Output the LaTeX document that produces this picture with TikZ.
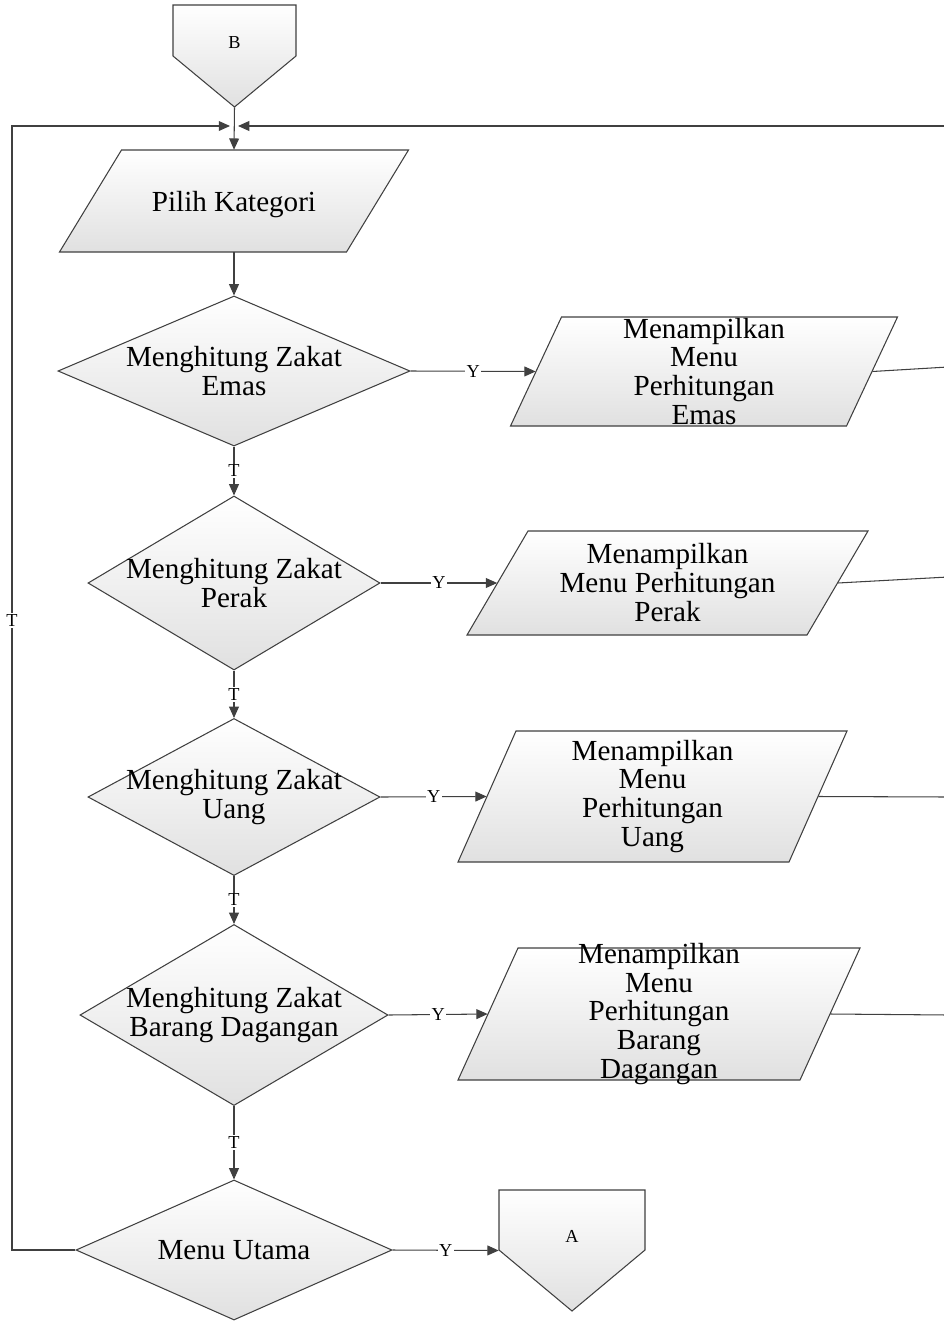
\documentclass[tikz,border=0pt]{standalone}
\usepackage{fontspec}
\setmainfont{Liberation Serif}
\usetikzlibrary{shapes.geometric,arrows.meta}
\definecolor{linegray}{RGB}{64,64,64}
% input/output outline: center, body width, height, slant
\newcommand{\ioshape}[4]{\path[box] (#1) ++({-(#2+#4)/2},{#3/2}) -- ++(#4,-#3) -- ++(#2,0) -- ++(-#4,#3) -- cycle;}
% off-page connector outline: center, width, height, side height
\newcommand{\offshape}[4]{\path[box] (#1) ++({-#2/2},{-#3/2}) -- ++(#2,0) -- ++(0,#4) -- ++({-#2/2},{#3-#4}) -- ++({-#2/2},{#4-#3}) -- cycle;}

\begin{document}
\begin{tikzpicture}[x=0.025cm, y=-0.025cm,
    box/.style ={draw=linegray, line width=0.75pt, top color=white, bottom color=black!12},
    decision/.style ={box, diamond, inner sep=0pt},
    txt/.style ={font=\fontsize{20.7}{20.6}\selectfont, align=center, inner sep=0pt},
    small/.style ={font=\fontsize{13}{13}\selectfont},
    lbl/.style ={small, fill=white, inner sep=1pt},
    flow/.style ={draw=linegray, line width=0.75pt, -{Triangle[length=8pt,width=7pt]}},
    line/.style ={draw=linegray, line width=0.75pt}]
   \useasboundingbox (0,0) rectangle (944,1321);
   % outlines
   \offshape{234.5,56}{123}{102}{51}
   \offshape{572,1250.5}{146}{121}{60}
   \ioshape{234,201}{287}{102}{62}
   \ioshape{704,371.5}{336}{109}{51}
   \ioshape{667.5,583}{340}{104}{61}
   \ioshape{652.5,796.5}{331}{131}{58}
   \ioshape{659,1014}{342}{132}{60}
   % connectors
   \node[small, minimum width=3.075cm, minimum height=2.55cm, inner sep=0pt, label={[small, yshift=0.33cm]center:B}] (B) at (234.5,56) {};
   \node[small, minimum width=3.65cm, minimum height=3.025cm, inner sep=0pt, label={[small, yshift=0.35cm]center:A}] (A) at (572,1250.5) {};
   \coordinate (m) at (234,126);
   % input
   \node[txt, minimum width=7.175cm, minimum height=2.55cm, label={[txt, yshift=-0.08cm]center:Pilih Kategori}] (pilih) at (234,201) {};
   % decisions
   \node[decision, minimum width=8.8cm, minimum height=3.75cm, label={[txt]center:Menghitung Zakat\\Emas}] (qemas) at (234,371) {};
   \node[decision, minimum width=7.3cm, minimum height=4.35cm, label={[txt]center:Menghitung Zakat\\Perak}] (qperak) at (234,583) {};
   \node[decision, minimum width=7.3cm, minimum height=3.925cm, label={[txt]center:Menghitung Zakat\\Uang}] (quang) at (234,797) {};
   \node[decision, minimum width=7.7cm, minimum height=4.525cm, label={[txt]center:Menghitung Zakat\\Barang Dagangan}] (qbarang) at (234,1015) {};
   \node[decision, minimum width=7.9cm, minimum height=3.5cm, label={[txt]center:Menu Utama}] (qutama) at (234,1250) {};
   % outputs
   \node[txt, minimum width=8.4cm, minimum height=2.725cm] (emas) at (704,371.5) {Menampilkan\\Menu\\Perhitungan\\Emas};
   \node[txt, minimum width=8.5cm, minimum height=2.6cm] (perak) at (667.5,583) {Menampilkan\\Menu Perhitungan\\Perak};
   \node[txt, minimum width=8.275cm, minimum height=3.275cm] (uang) at (652.5,796.5) {Menampilkan\\Menu\\Perhitungan\\Uang};
   \node[txt, minimum width=8.55cm, minimum height=3.3cm] (barang) at (659,1014) {Menampilkan\\Menu\\Perhitungan\\Barang\\Dagangan};
   % flow
   \draw[flow] (B.south) -- (pilih.north);
   \draw[flow] (pilih.south) -- (qemas.north);
   \draw[flow] (qemas.south) -- node[lbl]{T} (qperak.north);
   \draw[flow] (qperak.south) -- node[lbl]{T} (quang.north);
   \draw[flow] (quang.south) -- node[lbl]{T} (qbarang.north);
   \draw[flow] (qbarang.south) -- node[lbl]{T} (qutama.north);
   \draw[flow] (qemas.east) -- node[lbl]{Y} (emas.west);
   \draw[flow] (qperak.east) -- node[lbl]{Y} (perak.west);
   \draw[flow] (quang.east) -- node[lbl]{Y} (uang.west);
   \draw[flow] (qbarang.east) -- node[lbl]{Y} (barang.west);
   \draw[flow] (qutama.east) -- node[lbl]{Y} (A.west);
   \draw[flow] (qutama.west) -- (12,1250) -- node[lbl, pos=0.56]{T} (12,126) -- ([xshift=-0.1cm]m);
   % back to the top
   \draw[line] (emas.east) -- (948,367);
   \draw[line] (perak.east) -- (948,577);
   \draw[line] (uang.east) -- (948,797);
   \draw[line] (barang.east) -- (948,1015);
   \draw[flow] (948,1015) -- (948,126) -- ([xshift=0.1cm]m);
\end{tikzpicture}
\end{document}
